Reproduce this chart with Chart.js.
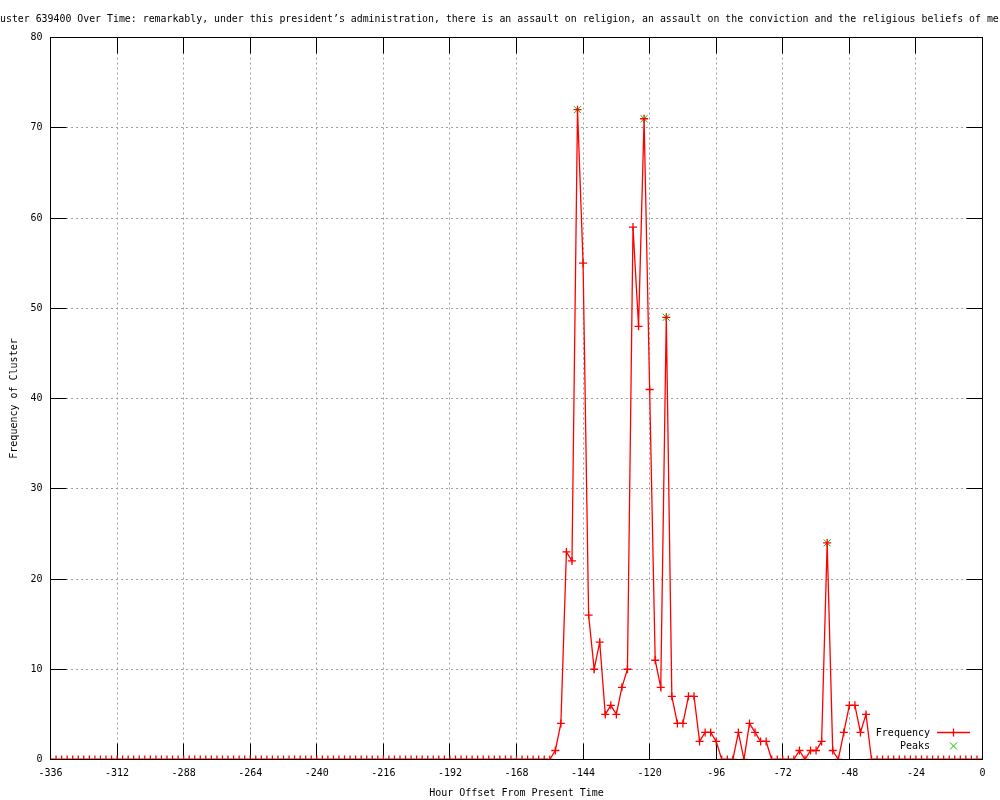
<!DOCTYPE html>
<html>
<head>
<meta charset="utf-8">
<script src="https://cdn.jsdelivr.net/npm/chart.js@4.4.0/dist/chart.umd.min.js"></script>
<style>
  body { margin: 0; background: #fff; }
  canvas { display: block; }
</style>
</head>
<body>
<canvas id="chartCluster" width="1000" height="800"></canvas>
<script>
const titleText = "Cluster 639400 Over Time: remarkably, under this president\u2019s administration, there is an assault on religion, an assault on the conviction and the religious beliefs of me";

// one sample every 2 hours, from -336 up to 0
const firstHour = -336;
const hourStep = 2;
const frequency = [
  0, 0, 0, 0, 0, 0, 0, 0, 0, 0,      // -336 .. -318
  0, 0, 0, 0, 0, 0, 0, 0, 0, 0,      // -316 .. -298
  0, 0, 0, 0, 0, 0, 0, 0, 0, 0,      // -296 .. -278
  0, 0, 0, 0, 0, 0, 0, 0, 0, 0,      // -276 .. -258
  0, 0, 0, 0, 0, 0, 0, 0, 0, 0,      // -256 .. -238
  0, 0, 0, 0, 0, 0, 0, 0, 0, 0,      // -236 .. -218
  0, 0, 0, 0, 0, 0, 0, 0, 0, 0,      // -216 .. -198
  0, 0, 0, 0, 0, 0, 0, 0, 0, 0,      // -196 .. -178
  0, 0, 0, 0, 0, 0, 0, 0, 0, 0,      // -176 .. -158
  0,                                 // -156
  1, 4, 23, 22, 72, 55, 16, 10, 13, 5,   // -154 .. -136
  6, 5, 8, 10, 59, 48, 71, 41, 11, 8,    // -134 .. -116
  49, 7, 4, 4, 7, 7, 2, 3, 3, 2,         // -114 .. -96
  0, 0, 0, 3, 0, 4, 3, 2, 2, 0,          // -94 .. -76
  0, 0, 0, 0, 1, 0, 1, 1, 2, 24,         // -74 .. -56
  1, 0, 3, 6, 6, 3, 5, 0, 0, 0,          // -54 .. -36
  0, 0, 0, 0, 0, 0, 0, 0, 0, 0,          // -34 .. -16
  0, 0, 0, 0, 0, 0, 0, 0                 // -14 .. 0
];
const peakHours = [-146, -122, -114, -56];
const peakValues = [72, 71, 49, 24];
const xTicks = [-336, -312, -288, -264, -240, -216, -192, -168, -144, -120, -96, -72, -48, -24, 0];
const yTicks = [0, 10, 20, 30, 40, 50, 60, 70, 80];

const FONT = '"DejaVu Sans Mono", "Liberation Mono", monospace';
const RED = '#ff0000';
const GREEN = '#00c000';

const freqPoints = frequency.map((v, i) => ({ x: firstHour + i * hourStep, y: v }));
const peakPoints = peakHours.map((h, i) => ({ x: h, y: peakValues[i] }));

function crisp(p) { return Math.round(p - 0.5) + 0.5; }

// gnuplot look: inward ticks on all four sides, key in the corner, border in front
const gnuplotFrame = {
  id: 'gnuplotFrame',
  beforeDatasetsDraw(chart) {
    const { ctx, chartArea: a, scales: { x, y } } = chart;
    const tic = 16;
    ctx.save();
    ctx.strokeStyle = '#000';
    ctx.lineWidth = 1;
    ctx.beginPath();
    xTicks.forEach(v => {
      const px = crisp(x.getPixelForValue(v));
      ctx.moveTo(px, a.bottom); ctx.lineTo(px, a.bottom - tic);
      ctx.moveTo(px, a.top); ctx.lineTo(px, a.top + tic);
    });
    yTicks.forEach(v => {
      const py = crisp(y.getPixelForValue(v));
      ctx.moveTo(a.left, py); ctx.lineTo(a.left + tic, py);
      ctx.moveTo(a.right, py); ctx.lineTo(a.right - tic, py);
    });
    ctx.stroke();
    // grid and tics stop at the key box
    ctx.fillStyle = '#fff';
    ctx.fillRect(868, 719, a.right - 868, a.bottom - 719);
    ctx.restore();
  },
  afterDatasetsDraw(chart) {
    const { ctx, chartArea: a } = chart;
    ctx.save();
    ctx.strokeStyle = '#000';
    ctx.lineWidth = 1;
    ctx.strokeRect(a.left, a.top, a.right - a.left, a.bottom - a.top);

    // key
    ctx.font = '10px ' + FONT;
    ctx.fillStyle = '#000';
    ctx.textAlign = 'right';
    ctx.textBaseline = 'middle';
    ctx.fillText('Frequency', 930, 733);
    ctx.fillText('Peaks', 930, 746);
    ctx.strokeStyle = RED;
    ctx.lineWidth = 1.3;
    ctx.beginPath();
    ctx.moveTo(937, 732.5); ctx.lineTo(970, 732.5);
    ctx.moveTo(949.5, 732.5); ctx.lineTo(957.5, 732.5);
    ctx.moveTo(953.5, 728.5); ctx.lineTo(953.5, 736.5);
    ctx.stroke();
    ctx.strokeStyle = GREEN;
    ctx.lineWidth = 1;
    ctx.beginPath();
    ctx.moveTo(950, 742.5); ctx.lineTo(957, 749.5);
    ctx.moveTo(957, 742.5); ctx.lineTo(950, 749.5);
    ctx.stroke();

    // title, wider than the page: centred text overflowing both sides
    ctx.font = '9.9px ' + FONT;
    ctx.textAlign = 'left';
    ctx.fillStyle = '#000';
    ctx.fillText(titleText, -ctx.measureText('Cl').width, 19);
    ctx.restore();
  }
};

new Chart(document.getElementById('chartCluster'), {
  type: 'line',
  data: {
    datasets: [{
      label: 'Frequency',
      data: freqPoints,
      borderColor: RED,
      borderWidth: 1.3,
      tension: 0,
      fill: false,
      pointStyle: 'cross',
      pointRadius: 4,
      pointBorderColor: RED,
      pointBorderWidth: 1.3
    }, {
      label: 'Peaks',
      data: peakPoints,
      showLine: false,
      pointStyle: 'crossRot',
      pointRadius: 5,
      pointBorderColor: GREEN,
      pointBorderWidth: 1
    }]
  },
  options: {
    responsive: false,
    animation: false,
    events: [],
    layout: { padding: { top: 37.5, right: 17.5, left: 0, bottom: 0 } },
    plugins: {
      legend: { display: false },
      title: { display: false },
      tooltip: { enabled: false }
    },
    scales: {
      x: {
        type: 'linear',
        min: -336,
        max: 0,
        afterBuildTicks: s => { s.ticks = xTicks.map(v => ({ value: v })); },
        afterFit: s => { s.height = 40.5; },
        grid: { color: '#a0a0a0', lineWidth: 1, drawTicks: false },
        border: { display: false, dash: [2, 3] },
        ticks: {
          color: '#000',
          font: { family: FONT, size: 10 },
          padding: 8,
          maxRotation: 0,
          autoSkip: false,
          callback: v => String(v)
        },
        title: {
          display: true,
          text: 'Hour Offset From Present Time',
          color: '#000',
          font: { family: FONT, size: 10 },
          padding: { top: 0, bottom: 1 }
        }
      },
      y: {
        min: 0,
        max: 80,
        afterBuildTicks: s => { s.ticks = yTicks.map(v => ({ value: v })); },
        afterFit: s => { s.width = 50.5; },
        grid: { color: '#a0a0a0', lineWidth: 1, drawTicks: false },
        border: { display: false, dash: [2, 3] },
        ticks: {
          color: '#000',
          font: { family: FONT, size: 10 },
          padding: 8,
          callback: v => String(v)
        },
        title: {
          display: true,
          text: 'Frequency of Cluster',
          color: '#000',
          font: { family: FONT, size: 10 },
          padding: { top: 8, bottom: 0 }
        }
      }
    }
  },
  plugins: [gnuplotFrame]
});
</script>
</body>
</html>
